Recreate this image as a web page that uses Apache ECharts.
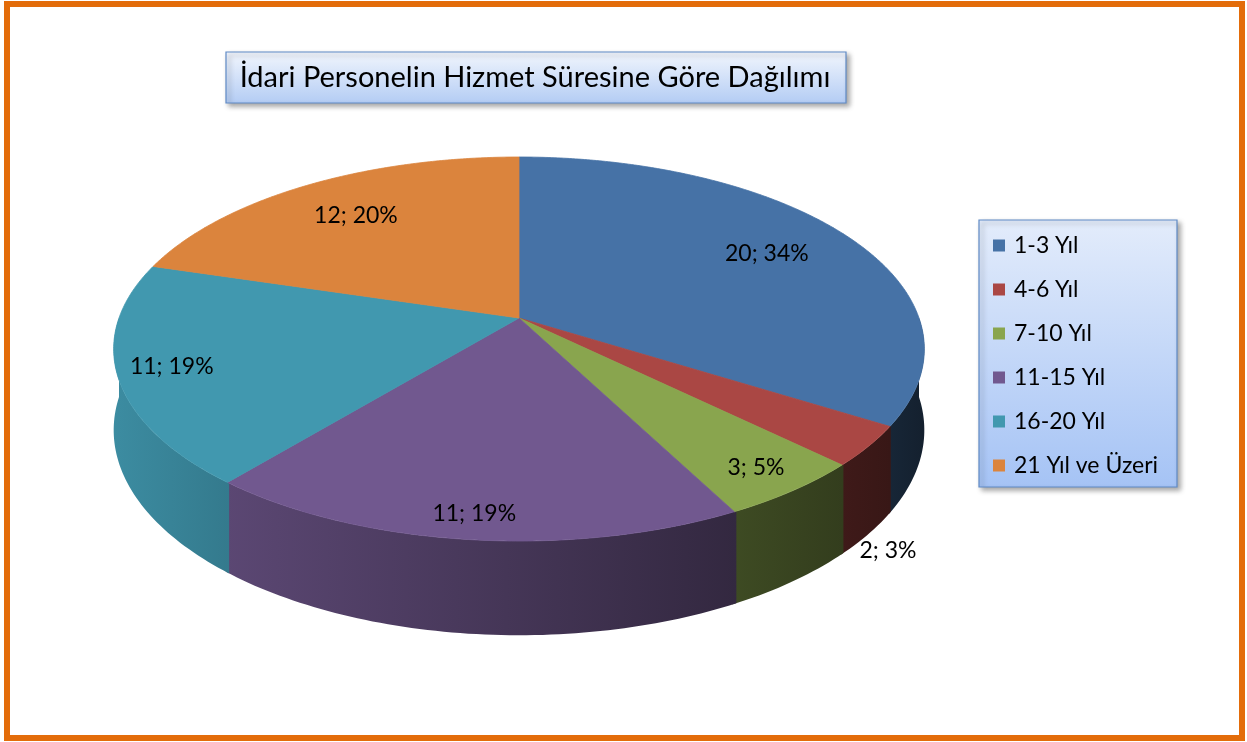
<!DOCTYPE html>
<html>
<head>
  <meta charset="utf-8">
  <title>İdari Personelin Hizmet Süresine Göre Dağılımı</title>
  <script src="https://cdn.jsdelivr.net/npm/echarts@6/dist/echarts.min.js"></script>
  <style>
    html, body { margin: 0; padding: 0; background: #fff; }
  </style>
</head>
<body>
  <div id="main" style="width: 1247px; height: 742px;"></div>
  <script type="text/javascript">
    // data
    var categories = ['1-3 Yıl', '4-6 Yıl', '7-10 Yıl', '11-15 Yıl', '16-20 Yıl', '21 Yıl ve Üzeri'];
    var counts = [20, 2, 3, 11, 11, 12];
    var colors = ['#4672A6', '#AA4744', '#89A54E', '#71588F', '#4198AF', '#DB843D'];

    // where each label sits, as a fraction of the radius (red one goes outside)
    var labelRadius = [0.75, 1.05, 0.88, 0.9, 0.87, 0.75];
    var labelBelow = [false, true, false, false, false, false];

    var total = counts.reduce(function (a, b) { return a + b; }, 0);
    var startAngle = [];
    var acc = 0;
    counts.forEach(function (c) { startAngle.push(acc / total * 360); acc += c; });

    // 3d pie geometry (perspective-ish projection of a disc)
    var cx = 519, cy = 318;
    var ax = 400, by = 187, k = -0.1615, depth = 79;
    var FONT = 'Lato, "Liberation Sans", sans-serif';

    function proj(phiDeg, f) {
      var p = phiDeg * Math.PI / 180;
      var u = Math.sin(p) * f, v = -Math.cos(p) * f;
      var s = 1 / (1 + k * v);
      return { x: cx + ax * u * s, y: cy + by * v * s, u: Math.sin(p), d: depth * s };
    }

    // angles from a to b, both ends included
    function arcAngles(a, b, step) {
      var n = Math.max(1, Math.ceil((b - a) / step));
      var out = [];
      for (var j = 0; j <= n; j++) out.push(a + (b - a) * j / n);
      return out;
    }

    function shade(hex, f) {
      var n = parseInt(hex.slice(1), 16);
      var r = Math.round(((n >> 16) & 255) * f);
      var g = Math.round(((n >> 8) & 255) * f);
      var b = Math.round((n & 255) * f);
      return 'rgb(' + r + ',' + g + ',' + b + ')';
    }
    function sideFactor(u) {
      return Math.max(0.25, Math.min(0.95, 0.6 - 0.32 * u));
    }

    function makeRender(i) {
      return function (params, api) {
        var a1 = startAngle[i];
        var a2 = a1 + counts[i] / total * 360;
        var children = [];

        // side wall (front half only), overlapping neighbours a little to hide seams
        var s1 = Math.max(a1 - 0.3, 90), s2 = Math.min(a2 + 0.3, 270);
        if (s2 > s1) {
          var topPts = [], botPts = [];
          arcAngles(s1, s2, 1).forEach(function (a) {
            var p = proj(a, 1);
            topPts.push([p.x, p.y]);
            botPts.push([p.x, p.y + p.d]);
          });
          var pl = proj(s2, 1), pr = proj(s1, 1);
          var left = Math.min(pl.u, pr.u), right = Math.max(pl.u, pr.u);
          children.push({
            type: 'polygon',
            z2: 1,
            shape: { points: topPts.concat(botPts.reverse()) },
            style: {
              fill: new echarts.graphic.LinearGradient(0, 0, 1, 0, [
                { offset: 0, color: shade(colors[i], sideFactor(left)) },
                { offset: 1, color: shade(colors[i], sideFactor(right)) }
              ])
            }
          });
        }

        // top face
        var pts = [[cx, cy]];
        arcAngles(a1, a2, 0.5).forEach(function (b) {
          var q = proj(b, 1);
          pts.push([q.x, q.y]);
        });
        children.push({
          type: 'polygon',
          z2: 10,
          shape: { points: pts },
          style: { fill: colors[i], stroke: colors[i], lineWidth: 0.8 }
        });

        // label
        var mid = (a1 + a2) / 2;
        var lp = proj(mid, labelRadius[i]);
        var ly = labelBelow[i] ? lp.y + lp.d + 9 : lp.y;
        var pct = Math.round(counts[i] / total * 100);
        children.push({
          type: 'text',
          z2: 20,
          x: lp.x,
          y: ly,
          style: {
            text: counts[i] + '; ' + pct + '%',
            fill: '#000',
            font: '23px ' + FONT,
            align: 'center',
            verticalAlign: 'middle'
          }
        });

        return { type: 'group', children: children };
      };
    }

    var series = categories.map(function (name, i) {
      return {
        name: name,
        type: 'custom',
        coordinateSystem: 'none',
        itemStyle: { color: colors[i] },
        silent: true,
        data: [counts[i]],
        renderItem: makeRender(i)
      };
    });

    var myChart = echarts.init(document.getElementById('main'), null, { renderer: 'canvas' });
    var option = {
      animation: false,
      color: colors,
      backgroundColor: '#fff',
      legend: {
        data: categories,
        orient: 'vertical',
        left: 988,
        top: 229,
        icon: 'rect',
        itemWidth: 12,
        itemHeight: 12,
        itemGap: 21,
        selectedMode: false,
        textStyle: {
          fontFamily: FONT,
          fontSize: 23,
          color: '#000',
          padding: [0, 0, 0, 4]
        },
        z: 5
      },
      graphic: [
        {
          type: 'rect',
          z: 0,
          shape: { x: 7, y: 4, width: 1235, height: 734 },
          style: { fill: null, stroke: '#E36C0A', lineWidth: 6 }
        },
        {
          type: 'rect',
          z: 1,
          shape: { x: 226, y: 52, width: 620, height: 51 },
          style: {
            fill: new echarts.graphic.LinearGradient(0, 0, 0, 1, [
              { offset: 0, color: '#F2F6FD' },
              { offset: 1, color: '#B3CCF4' }
            ]),
            stroke: '#5F8AC6',
            lineWidth: 1.2,
            shadowBlur: 5,
            shadowOffsetX: 3,
            shadowOffsetY: 3,
            shadowColor: 'rgba(0,0,0,0.35)'
          }
        },
        {
          type: 'text',
          z: 2,
          x: 535,
          y: 78,
          style: {
            text: 'İdari Personelin Hizmet Süresine Göre Dağılımı',
            fill: '#000',
            font: '29px ' + FONT,
            align: 'center',
            verticalAlign: 'middle'
          }
        },
        {
          type: 'rect',
          z: 1,
          shape: { x: 979, y: 220, width: 198, height: 267 },
          style: {
            fill: new echarts.graphic.LinearGradient(0, 0, 0, 1, [
              { offset: 0, color: '#E3ECFB' },
              { offset: 1, color: '#A5C3F5' }
            ]),
            stroke: '#5F8AC6',
            lineWidth: 1.2,
            shadowBlur: 5,
            shadowOffsetX: 3,
            shadowOffsetY: 3,
            shadowColor: 'rgba(0,0,0,0.35)'
          }
        }
      ],
      series: series
    };

    myChart.setOption(option);
  </script>
</body>
</html>
